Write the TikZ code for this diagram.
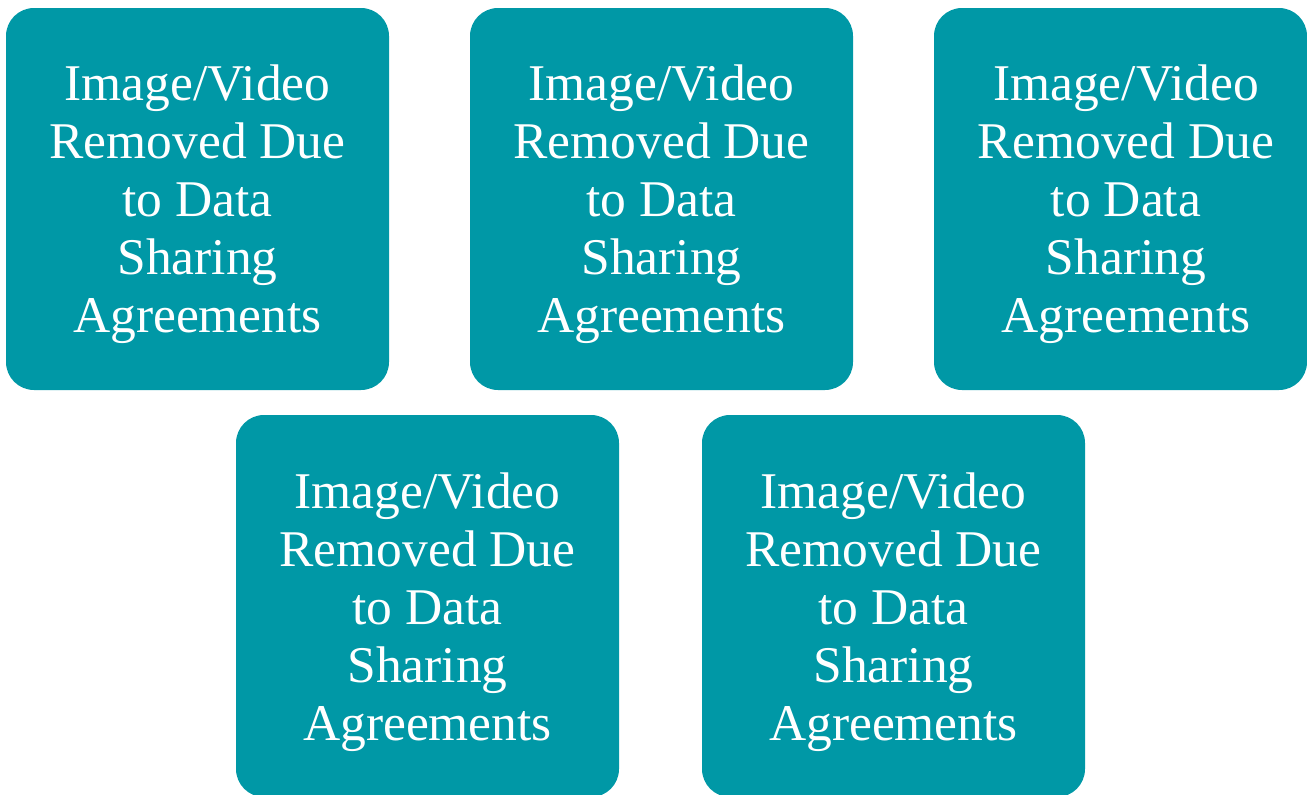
\documentclass[tikz,border=0pt]{standalone}
\usepackage{fontspec}
\setmainfont{Liberation Serif}
\definecolor{tealbox}{HTML}{0098A6}
\begin{document}
\begin{tikzpicture}[x=1pt,y=-1pt,
  card/.style={fill=tealbox,rounded corners=28pt},
  cardtext/.style={text=white,align=center,font=\fontsize{51.5}{58}\selectfont,inner sep=0pt}]
\useasboundingbox (0,0) rectangle (1307,795);
\begin{scope}
\clip (0,0) rectangle (1307,795);
% top row
\fill[card] (6,8) rectangle (389,390);
\fill[card] (470,8) rectangle (853,390);
\fill[card] (934,8) rectangle (1307,390);
% bottom row
\fill[card] (236,415) rectangle (619,797);
\fill[card] (702,415) rectangle (1085,797);
\end{scope}
\node[cardtext] (t1) at (197.5,204) {Image/Video\\Removed Due\\to Data\\Sharing\\Agreements};
\node[cardtext] (t2) at (661.5,204) {Image/Video\\Removed Due\\to Data\\Sharing\\Agreements};
\node[cardtext] (t3) at (1126,204) {Image/Video\\Removed Due\\to Data\\Sharing\\Agreements};
\node[cardtext] (t4) at (427.5,612) {Image/Video\\Removed Due\\to Data\\Sharing\\Agreements};
\node[cardtext] (t5) at (893.5,612) {Image/Video\\Removed Due\\to Data\\Sharing\\Agreements};
\end{tikzpicture}
\end{document}
